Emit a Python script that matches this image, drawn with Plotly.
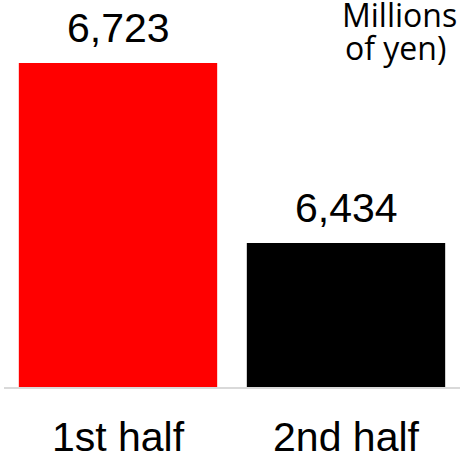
import plotly.graph_objects as go

categories = ["1st half", "2nd half"]
values = [6723, 6434]
value_labels = ["6,723", "6,434"]
bar_colors = ["#ff0000", "#000000"]
unit_lines = ["Millions", "of yen)"]

FONT = "Arial, 'Liberation Sans', sans-serif"

fig = go.Figure()
fig.add_trace(go.Bar(
    x=categories, y=values, marker=dict(color=bar_colors, line=dict(width=0)),
    hoverinfo="skip",
))

for c, v, t in zip(categories, values, value_labels):
    fig.add_annotation(x=c, y=v, text=t, showarrow=False, xanchor="center",
                       yanchor="bottom", yshift=10,
                       font=dict(family=FONT, size=41, color="#000000"))

fig.add_annotation(xref="paper", yref="paper", x=0.737, y=1.0, text=unit_lines[0],
                   showarrow=False, xanchor="left", yanchor="top", yshift=9,
                   font=dict(family="'Open Sans', sans-serif", size=32, color="#000000"))
fig.add_annotation(xref="paper", yref="paper", x=0.743, y=1.0, text=unit_lines[1],
                   showarrow=False, xanchor="left", yanchor="top", yshift=-24,
                   font=dict(family="'Open Sans', sans-serif", size=32, color="#000000"))

fig.update_layout(
    width=464, height=454,
    margin=dict(l=4, r=4, t=0, b=67, autoexpand=False),
    paper_bgcolor="white", plot_bgcolor="white",
    bargap=0.13, showlegend=False,
    xaxis=dict(showline=True, linecolor="#d9d9d9", linewidth=2, ticks="",
               showgrid=False, zeroline=False, ticklabelstandoff=13, automargin=False,
               tickfont=dict(family=FONT, size=41, color="#000000")),
    yaxis=dict(range=[6203, 6824], visible=False, showgrid=False, zeroline=False,
               automargin=False),
)

fig.write_html("out.html", config={"displayModeBar": False},
               post_script="document.body.style.margin='0';document.body.style.overflow='hidden';")
